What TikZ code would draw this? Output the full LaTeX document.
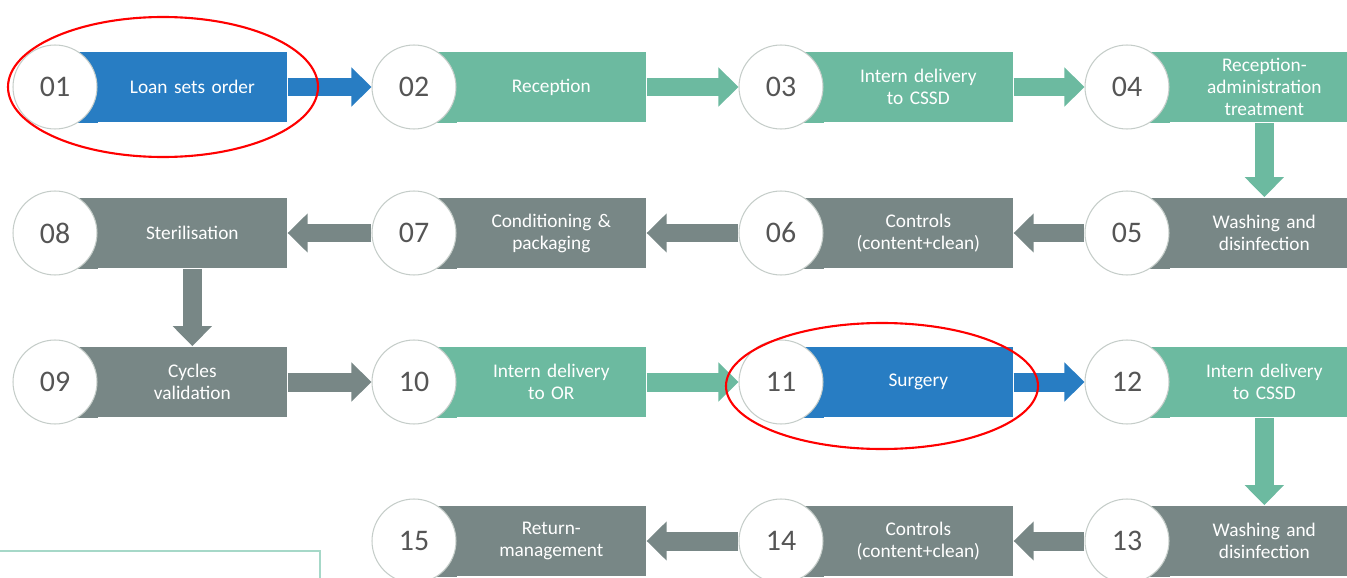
\documentclass[tikz,border=0pt]{standalone}
\usepackage{fontspec}
\setmainfont{Carlito}
\usetikzlibrary{arrows.meta}

\definecolor{loanblue}{HTML}{287DC3}
\definecolor{cssdgreen}{HTML}{6CBAA0}
\definecolor{washgray}{HTML}{788786}
\definecolor{ringgray}{HTML}{C5CDC9}
\definecolor{numgray}{HTML}{555555}
\definecolor{legendgreen}{HTML}{A6D8C8}

\tikzset{stagebox/.style = {rectangle, inner sep=0pt, minimum width=3.8cm,
                            minimum height=1.42cm, text width=3.4cm, align=center,
                            text=white, font=\fontsize{11}{12.5}\selectfont},
         numcircle/.style = {circle, draw=ringgray, line width=0.6pt, fill=white,
                             minimum size=1.68cm, inner sep=0pt, text=numgray,
                             font=\fontsize{17}{17}\selectfont},
         flow/.style = {draw=#1, line width=0.38cm,
                        -{Triangle[width=0.76cm,length=0.4cm]}},
         mark ring/.style = {draw=red, line width=1.2pt}
        }

\begin{document}
\begin{tikzpicture}[x=0.02cm, y=-0.02cm]
  \clip (0,0) rectangle (1347,578);
  % stages: number / x / y / colour / text
  \foreach \n/\x/\y/\col/\txt in {
      01/55/87/loanblue/Loan sets order,
      02/414/87/cssdgreen/Reception,
      03/781/87/cssdgreen/Intern delivery\\to CSSD,
      04/1127/87/cssdgreen/Reception-\\administration\\treatment,
      05/1127/233/washgray/Washing and\\disinfection,
      06/781/233/washgray/Controls\\(content+clean),
      07/414/233/washgray/Conditioning \&\\packaging,
      08/55/233/washgray/Sterilisation,
      09/55/382/washgray/Cycles\\validation,
      10/414/382/cssdgreen/Intern delivery\\to OR,
      11/781/382/loanblue/Surgery,
      12/1127/382/cssdgreen/Intern delivery\\to CSSD,
      13/1127/541/washgray/Washing and\\disinfection,
      14/781/541/washgray/Controls\\(content+clean),
      15/414/541/washgray/Return-\\management}
  {
    \node[stagebox, fill=\col, anchor=west] (b\n) at (\x+42,\y) {\txt};
    \fill[\col] (\x,\y-35.5) rectangle (\x+43,\y+35.5);
    \node[numcircle] (c\n) at (\x,\y) {\n};
  }

  % first row
  \draw[flow=loanblue] (b01) -- (c02);
  \draw[flow=cssdgreen] (b02) -- (c03);
  \draw[flow=cssdgreen] (b03) -- (c04);
  \draw[flow=cssdgreen] (b04) -- (b05);
  % second row
  \draw[flow=washgray] (c05) -- (b06);
  \draw[flow=washgray] (c06) -- (b07);
  \draw[flow=washgray] (c07) -- (b08);
  \draw[flow=washgray] (b08) -- (b09);
  % third row
  \draw[flow=washgray] (b09) -- (c10);
  \draw[flow=cssdgreen] (b10) -- (c11);
  \draw[flow=loanblue] (b11) -- (c12);
  \draw[flow=cssdgreen] (b12) -- (b13);
  % fourth row
  \draw[flow=washgray] (c13) -- (b14);
  \draw[flow=washgray] (c14) -- (b15);

  % highlighted steps
  \draw[mark ring] (163,87) ellipse [x radius=155, y radius=70];
  \draw[mark ring] (882,386) ellipse [x radius=156, y radius=63];

  % legend frame, cut by the page edge
  \draw[draw=legendgreen, line width=0.8pt] (-5,551) rectangle (320,600);
\end{tikzpicture}
\end{document}
